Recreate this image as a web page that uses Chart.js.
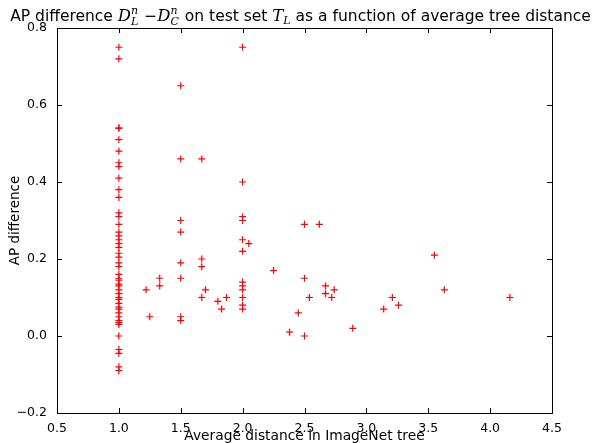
<!DOCTYPE html>
<html lang="en">
<head>
    <meta charset="UTF-8">
    <title>AP difference vs tree distance</title>
    <script src="https://cdn.jsdelivr.net/npm/chart.js"></script>
    <style>
        html, body { margin: 0; padding: 0; background: white; }
        #wrap { width: 599px; height: 443px; }
    </style>
</head>
<body>
<div id="wrap"><canvas id="myChart" width="599" height="443"></canvas></div>
<script>
    // average tree distance (x) and AP difference (y), one entry per class
    var distances = [
        1, 1, 1, 1, 1, 1, 1, 1, 1, 1, 1, 1, 1, 1, 1, 1, 1, 1, 1, 1, 1, 1, 1,
        1, 1, 1, 1, 1, 1, 1, 1, 1, 1, 1, 1, 1, 1, 1, 1, 1, 1, 1, 1, 1, 1,
        1.22, 1.25, 1.33, 1.33,
        1.5, 1.5, 1.5, 1.5, 1.5, 1.5, 1.5, 1.5,
        1.67, 1.67, 1.67, 1.67, 1.7, 1.8, 1.83, 1.87,
        2, 2, 2, 2, 2, 2, 2, 2, 2, 2, 2, 2, 2.05,
        2.25, 2.38, 2.45, 2.5, 2.5, 2.5, 2.54, 2.62, 2.67, 2.67, 2.72, 2.74,
        2.89, 3.14, 3.21, 3.26, 3.55, 3.63, 4.16
    ];
    var apDiffs = [
        0.75, 0.72, 0.54, 0.54, 0.51, 0.48, 0.45, 0.44, 0.41, 0.38, 0.36, 0.32, 0.31,
        0.29, 0.27, 0.26, 0.25, 0.24, 0.23, 0.215, 0.205, 0.19, 0.18,
        0.16, 0.15, 0.145, 0.135, 0.13, 0.12, 0.11, 0.10, 0.095, 0.085, 0.075, 0.07,
        0.06, 0.05, 0.04, 0.035, 0.03, 0.0, -0.035, -0.045, -0.08, -0.09,
        0.12, 0.05, 0.15, 0.13,
        0.65, 0.46, 0.30, 0.27, 0.19, 0.15, 0.05, 0.04,
        0.46, 0.20, 0.18, 0.10, 0.12, 0.09, 0.07, 0.10,
        0.75, 0.40, 0.31, 0.30, 0.25, 0.22, 0.14, 0.13, 0.12, 0.10, 0.08, 0.07, 0.24,
        0.17, 0.01, 0.06, 0.29, 0.15, 0.0, 0.10, 0.29, 0.13, 0.11, 0.10, 0.12,
        0.02, 0.07, 0.10, 0.08, 0.21, 0.12, 0.10
    ];
    var xTicks = [0.5, 1.0, 1.5, 2.0, 2.5, 3.0, 3.5, 4.0, 4.5];
    var yTicks = [-0.2, 0.0, 0.2, 0.4, 0.6, 0.8];

    var points = [];
    for (var i = 0; i < distances.length; i++) {
        points.push({ x: distances[i], y: apDiffs[i] });
    }

    // matplotlib-like frame with inward ticks on all four sides
    var framePlugin = {
        id: 'frame',
        afterDraw: function (chart) {
            var ctx = chart.ctx;
            var a = chart.chartArea;
            var xs = chart.scales.x, ys = chart.scales.y;
            ctx.save();
            ctx.strokeStyle = '#000';
            ctx.lineWidth = 1;
            ctx.strokeRect(Math.round(a.left) + 0.5, Math.round(a.top) + 0.5,
                Math.round(a.right - a.left), Math.round(a.bottom - a.top));
            ctx.beginPath();
            xTicks.forEach(function (t) {
                var px = Math.round(xs.getPixelForValue(t)) + 0.5;
                ctx.moveTo(px, a.bottom); ctx.lineTo(px, a.bottom - 5);
                ctx.moveTo(px, a.top); ctx.lineTo(px, a.top + 5);
            });
            yTicks.forEach(function (t) {
                var py = Math.round(ys.getPixelForValue(t)) + 0.5;
                ctx.moveTo(a.left, py); ctx.lineTo(a.left + 5, py);
                ctx.moveTo(a.right, py); ctx.lineTo(a.right - 5, py);
            });
            ctx.stroke();

            // title with math parts
            var normal = '15.5px "DejaVu Sans"';
            var mathBig = 'italic 16.5px "DejaVu Serif"';
            var mathSmall = 'italic 11px "DejaVu Serif"';
            var parts = [
                { t: 'AP difference ', f: normal },
                { t: 'D', f: mathBig },
                { t: 'n', f: mathSmall, dy: -7, stack: 'L' },
                { t: ' \u2212', f: normal },
                { t: 'D', f: mathBig },
                { t: 'n', f: mathSmall, dy: -7, stack: 'C' },
                { t: ' on test set ', f: normal },
                { t: 'T', f: mathBig },
                { t: 'L', f: mathSmall, dy: 3 },
                { t: ' as a function of average tree distance', f: normal }
            ];
            function w(p) {
                ctx.font = p.f;
                var ww = ctx.measureText(p.t).width;
                if (p.stack) ww = Math.max(ww, ctx.measureText(p.stack).width);
                return ww + (p.stack ? 1 : 0);
            }
            var total = 0;
            parts.forEach(function (p) { total += w(p); });
            var x = 300.5 - total / 2;
            var base = 21;
            ctx.fillStyle = '#000';
            ctx.textBaseline = 'alphabetic';
            ctx.textAlign = 'left';
            parts.forEach(function (p) {
                var ww = w(p);
                ctx.font = p.f;
                ctx.fillText(p.t, x, base + (p.dy || 0));
                if (p.stack) ctx.fillText(p.stack, x, base + 4);
                x += ww;
            });
            ctx.restore();
        }
    };

    var ctx = document.getElementById('myChart').getContext('2d');
    var myChart = new Chart(ctx, {
        type: 'scatter',
        data: {
            datasets: [{
                data: points,
                pointStyle: 'cross',
                pointRadius: 3.5,
                pointHoverRadius: 3.5,
                borderColor: 'red',
                backgroundColor: 'red',
                borderWidth: 1.2
            }]
        },
        plugins: [framePlugin],
        options: {
            responsive: false,
            animation: false,
            events: [],
            layout: { padding: { top: 28, right: 47, left: 0, bottom: 0 } },
            plugins: {
                legend: { display: false },
                tooltip: { enabled: false }
            },
            scales: {
                x: {
                    type: 'linear',
                    min: 0.5,
                    max: 4.5,
                    afterBuildTicks: function (s) { s.ticks = xTicks.map(function (v) { return { value: v }; }); },
                    afterFit: function (s) { s.height = 30; },
                    grid: { display: false },
                    border: { display: false },
                    ticks: {
                        color: '#000',
                        font: { family: 'DejaVu Sans', size: 12.5 },
                        padding: 0,
                        maxRotation: 0,
                        callback: function (v) { return v.toFixed(1); }
                    },
                    title: {
                        display: true,
                        text: 'Average distance in ImageNet tree',
                        color: '#000',
                        font: { family: 'DejaVu Sans', size: 13.8 },
                        padding: { top: 0, bottom: -2 }
                    }
                },
                y: {
                    type: 'linear',
                    min: -0.2,
                    max: 0.8,
                    afterBuildTicks: function (s) { s.ticks = yTicks.map(function (v) { return { value: v }; }); },
                    afterFit: function (s) { s.width = 57; },
                    grid: { display: false },
                    border: { display: false },
                    ticks: {
                        color: '#000',
                        font: { family: 'DejaVu Sans', size: 12.5 },
                        padding: 2,
                        callback: function (v) {
                            var s = Math.abs(v).toFixed(1);
                            return v < -1e-9 ? '\u2212' + s : s;
                        }
                    },
                    title: {
                        display: true,
                        text: 'AP difference',
                        color: '#000',
                        font: { family: 'DejaVu Sans', size: 13.5 },
                        padding: { top: 7, bottom: 0 }
                    }
                }
            }
        }
    });
</script>
</body>
</html>
